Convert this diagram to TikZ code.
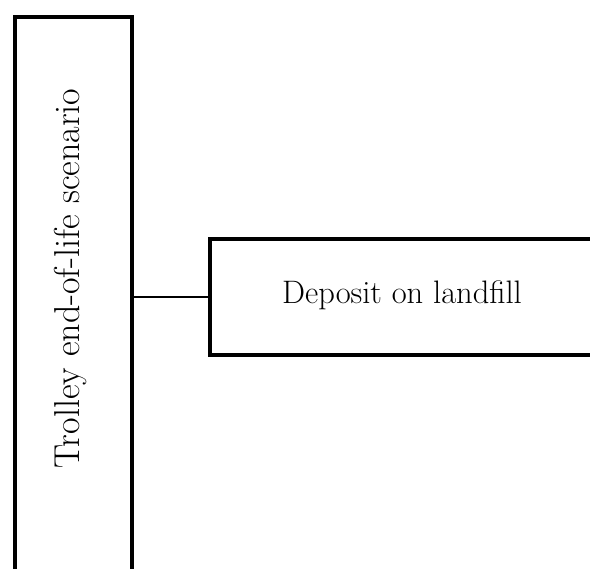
\documentclass[tikz,border=0pt]{standalone}
\begin{document}
\begin{tikzpicture}[x=1pt,y=1pt,
  boxstyle/.style={draw=black, line width=4pt, fill=white, inner sep=0pt},
  lbl/.style={inner sep=0pt},
  conn/.style={draw=black, line width=2.5pt}]
\useasboundingbox (0,0) rectangle (590,569);
\clip (0,0) rectangle (590,569);
% left tall box (extends below the picture)
\node[boxstyle, minimum width=117.5pt, minimum height=580pt, anchor=north west] (left) at (12.5,554) {};
\node[lbl, rotate=90, font=\fontsize{36}{40}\selectfont] (lefttext) at (71,290.5) {Trolley end-of-life scenario};
% right box (extends beyond the right edge)
\node[boxstyle, minimum width=389pt, minimum height=116pt, anchor=north west] (right) at (208,332) {};
\node[lbl, font=\fontsize{32.5}{36}\selectfont] (righttext) at (402,274) {Deposit on landfill};
\draw[conn] (left.east |- right.west) -- (right.west);
\end{tikzpicture}
\end{document}
